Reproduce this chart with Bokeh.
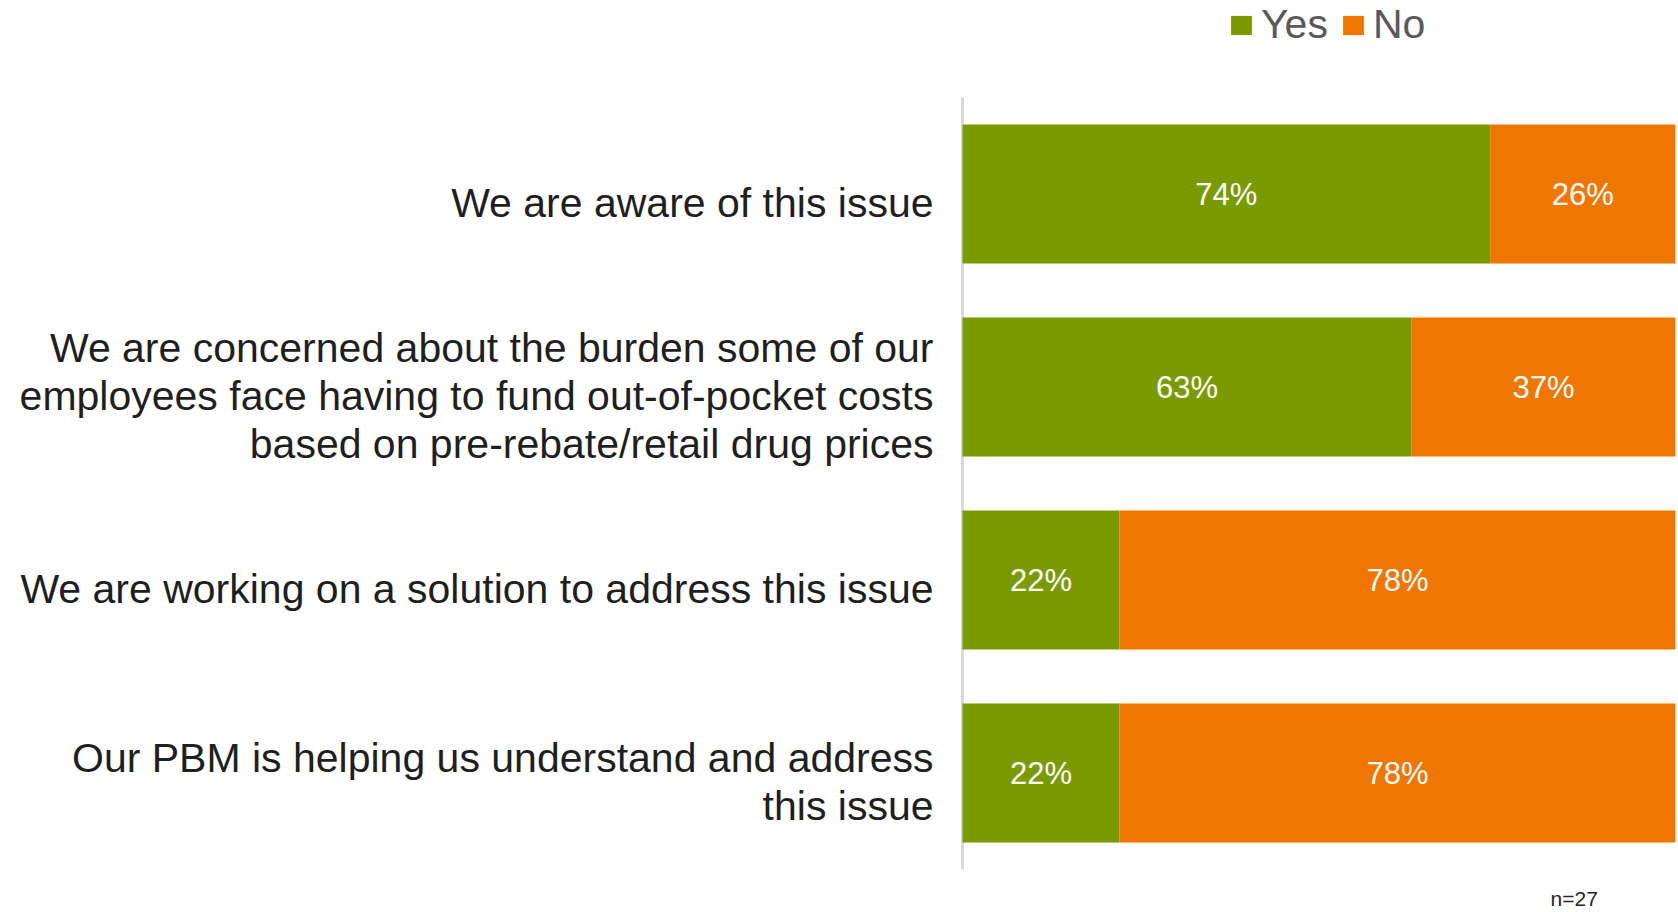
from bokeh.plotting import figure
from bokeh.models import Range1d, Legend, LegendItem, ColumnDataSource
from bokeh.core.properties import value
from bokeh.embed import file_html
from bokeh.resources import INLINE

categories = [
    "We are aware of this issue",
    "We are concerned about the burden some of our\nemployees face having to fund out-of-pocket costs\nbased on pre-rebate/retail drug prices",
    "We are working on a solution to address this issue",
    "Our PBM is helping us understand and address\nthis issue",
]
yes_vals = [0.74, 0.63, 0.22, 0.22]
no_vals = [0.26, 0.37, 0.78, 0.78]
series_names = ["Yes", "No"]
sample_note = "n=27"

GREEN = "#7a9a01"
ORANGE = "#ee7601"
FONT = "Liberation Sans"

# layout (pixels)
W, H = 1678, 912
X0_PX, X1_PX = 962, 1675        # where 0% and 100% fall
Y_TOP_PX, SLOT_PX = 97, 193     # top of first category slot, slot height
ncat = len(categories)
px_x = X1_PX - X0_PX
x_start = -X0_PX / px_x
x_end = (W - X0_PX) / px_x
y_top = -0.5 - Y_TOP_PX / SLOT_PX
y_bottom = -0.5 + (H - Y_TOP_PX) / SLOT_PX

idx = list(range(ncat))
src = ColumnDataSource(dict(
    y=idx,
    yes=yes_vals,
    no_left=yes_vals,
    no_right=[a + b for a, b in zip(yes_vals, no_vals)],
    yes_mid=[a / 2 for a in yes_vals],
    no_mid=[a + b / 2 for a, b in zip(yes_vals, no_vals)],
    yes_txt=[f"{round(v*100)}%" for v in yes_vals],
    no_txt=[f"{round(v*100)}%" for v in no_vals],
    zero=[0] * ncat,
))

p = figure(width=W, height=H, output_backend="svg", toolbar_location=None,
           x_range=Range1d(x_start, x_end), y_range=Range1d(y_bottom, y_top),
           min_border=0, x_axis_location=None, y_axis_location=None)
p.outline_line_color = None
p.xgrid.visible = False
p.ygrid.visible = False
p.background_fill_color = "white"
p.border_fill_color = "white"

# vertical axis line
p.segment(x0=[0], y0=[-0.5], x1=[0], y1=[ncat - 0.5], line_color="#d9d9d9", line_width=3)

r_yes = p.hbar(y="y", left="zero", right="yes", height=0.72, source=src,
               fill_color=GREEN, line_color=None)
r_no = p.hbar(y="y", left="no_left", right="no_right", height=0.72, source=src,
              fill_color=ORANGE, line_color=None)

for col_x, col_t in (("yes_mid", "yes_txt"), ("no_mid", "no_txt")):
    p.text(x=col_x, y="y", text=col_t, source=src, text_align="center",
           text_baseline="middle", text_color="white", text_font=value(FONT),
           text_font_size="31px")

line_h = 48
lx, ly, lt, loff = [], [], [], []
for i, cat in enumerate(categories):
    lines = cat.split("\n")
    n = len(lines)
    for j, ln in enumerate(lines):
        lx.append(0)
        ly.append(i)
        lt.append(ln)
        loff.append((j - (n - 1) / 2) * line_h + 9)
p.text(x=lx, y=ly, text=lt, x_offset=-29, y_offset=loff, text_align="right",
       text_baseline="middle", text_font=value(FONT), text_font_size="41px",
       text_color="#1f1f1f")

legend = Legend(items=[LegendItem(label=series_names[0], renderers=[r_yes]),
                       LegendItem(label=series_names[1], renderers=[r_no])],
                orientation="horizontal", location=(1228, H - 48),
                glyph_width=26, glyph_height=24, label_standoff=7, spacing=12,
                padding=0, margin=0, border_line_color=None,
                background_fill_alpha=0, label_text_font=FONT,
                label_text_font_size="41px", label_text_color="#595959")
p.add_layout(legend, "center")

p.text(x=[0.858], y=[ncat - 0.5], text=[sample_note], y_offset=29,
       text_align="center", text_baseline="alphabetic",
       text_font=value(FONT), text_font_size="21px", text_color="#262626")

open("out.html", "w").write(file_html(p, INLINE))
